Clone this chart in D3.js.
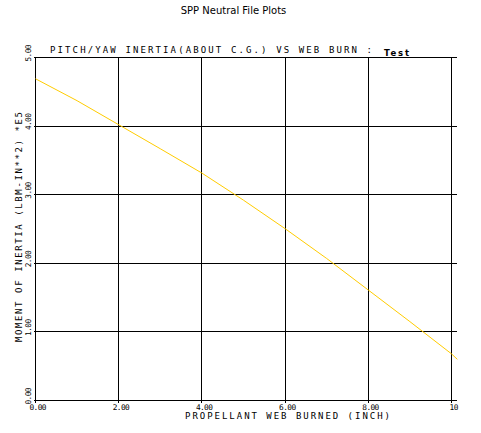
<!DOCTYPE html>
<html>
<head>
<meta charset="utf-8">
<script src="https://cdn.jsdelivr.net/npm/d3@7"></script>
<style>
  body { margin: 0; background: #fff; }
  svg { display: block; }
</style>
</head>
<body>
<div id="chart"></div>
<script>
// chart values
var webBurned = [0, 1, 2, 3, 4, 5, 6, 7, 8, 9, 10, 10.14];
var inertia = [4.69, 4.37, 4.02, 3.67, 3.315, 2.92, 2.505, 2.07, 1.61, 1.15, 0.68, 0.60];

var xTicks = [0, 2, 4, 6, 8, 10];
var xTickLabels = ["0.00", "2.00", "4.00", "6.00", "8.00", "10"];
var yTicks = [0, 1, 2, 3, 4, 5];
var yTickLabels = ["0.00", "1.00", "2.00", "3.00", "4.00", "5.00"];

var svgWidth = 481;
var svgHeight = 433;

var plot = { left: 35.5, right: 451.5, top: 57.5, bottom: 400.5 };

var mono = "'DejaVu Sans Mono', monospace";

var svg = d3.select("#chart")
  .append("svg")
  .attr("width", svgWidth)
  .attr("height", svgHeight);

var x = d3.scaleLinear()
  .domain([0, 10])
  .range([plot.left, plot.right]);

var y = d3.scaleLinear()
  .domain([0, 5])
  .range([plot.bottom, plot.top]);

var xEnd = x(d3.max(webBurned));

// page title
svg.append("text")
  .attr("x", 233.5)
  .attr("y", 14)
  .attr("text-anchor", "middle")
  .attr("font-family", "'DejaVu Sans', sans-serif")
  .attr("font-size", "10px")
  .attr("fill", "#000")
  .text("SPP Neutral File Plots");

// plot title
svg.append("text")
  .attr("x", 50)
  .attr("y", 53)
  .attr("font-family", mono)
  .attr("font-size", "9px")
  .attr("textLength", 322)
  .attr("lengthAdjust", "spacing")
  .text("PITCH/YAW INERTIA(ABOUT C.G.) VS WEB BURN :");

svg.append("text")
  .attr("x", 384)
  .attr("y", 56)
  .attr("font-family", "'DejaVu Sans', sans-serif")
  .attr("font-weight", "bold")
  .attr("font-size", "8.5px")
  .attr("textLength", 25)
  .attr("lengthAdjust", "spacing")
  .text("Test");

// grid
var grid = svg.append("g")
  .attr("stroke", "#000")
  .attr("stroke-width", 1)
  .attr("shape-rendering", "crispEdges");

grid.selectAll(".vline")
  .data(xTicks)
  .enter()
  .append("line")
  .attr("x1", d => x(d))
  .attr("x2", d => x(d))
  .attr("y1", plot.top)
  .attr("y2", plot.bottom + 2);

grid.selectAll(".hline")
  .data(yTicks)
  .enter()
  .append("line")
  .attr("x1", plot.left - 2)
  .attr("x2", xEnd)
  .attr("y1", d => y(d))
  .attr("y2", d => y(d));

// x tick labels
svg.selectAll(".xlab")
  .data(xTicks)
  .enter()
  .append("text")
  .attr("x", (d, i) => i === xTicks.length - 1 ? x(d) - 2 : x(d) - 6)
  .attr("y", 409.5)
  .attr("font-family", mono)
  .attr("font-size", "7.8px")
  .attr("textLength", (d, i) => i === xTicks.length - 1 ? 9 : 17)
  .attr("lengthAdjust", "spacing")
  .text((d, i) => xTickLabels[i]);

// y tick labels, rotated
svg.selectAll(".ylab")
  .data(yTicks)
  .enter()
  .append("text")
  .attr("transform", d => `translate(30.5, ${y(d) + 4}) rotate(-90)`)
  .attr("font-family", mono)
  .attr("font-size", "7.8px")
  .attr("textLength", 17)
  .attr("lengthAdjust", "spacing")
  .text((d, i) => yTickLabels[i]);

// axis titles
svg.append("text")
  .attr("x", 185)
  .attr("y", 418.5)
  .attr("font-family", mono)
  .attr("font-size", "9px")
  .attr("textLength", 205)
  .attr("lengthAdjust", "spacing")
  .text("PROPELLANT WEB BURNED (INCH)");

svg.append("text")
  .attr("transform", "translate(22, 342) rotate(-90)")
  .attr("font-family", mono)
  .attr("font-size", "9px")
  .attr("textLength", 230)
  .attr("lengthAdjust", "spacing")
  .text("MOMENT OF INERTIA (LBM-IN**2)  *E5");

// data line
var line = d3.line()
  .x((d, i) => x(webBurned[i]))
  .y(d => y(d));

svg.append("path")
  .datum(inertia)
  .attr("d", line)
  .attr("fill", "none")
  .attr("stroke", "#ffcc00")
  .attr("stroke-width", 1);
</script>
</body>
</html>
